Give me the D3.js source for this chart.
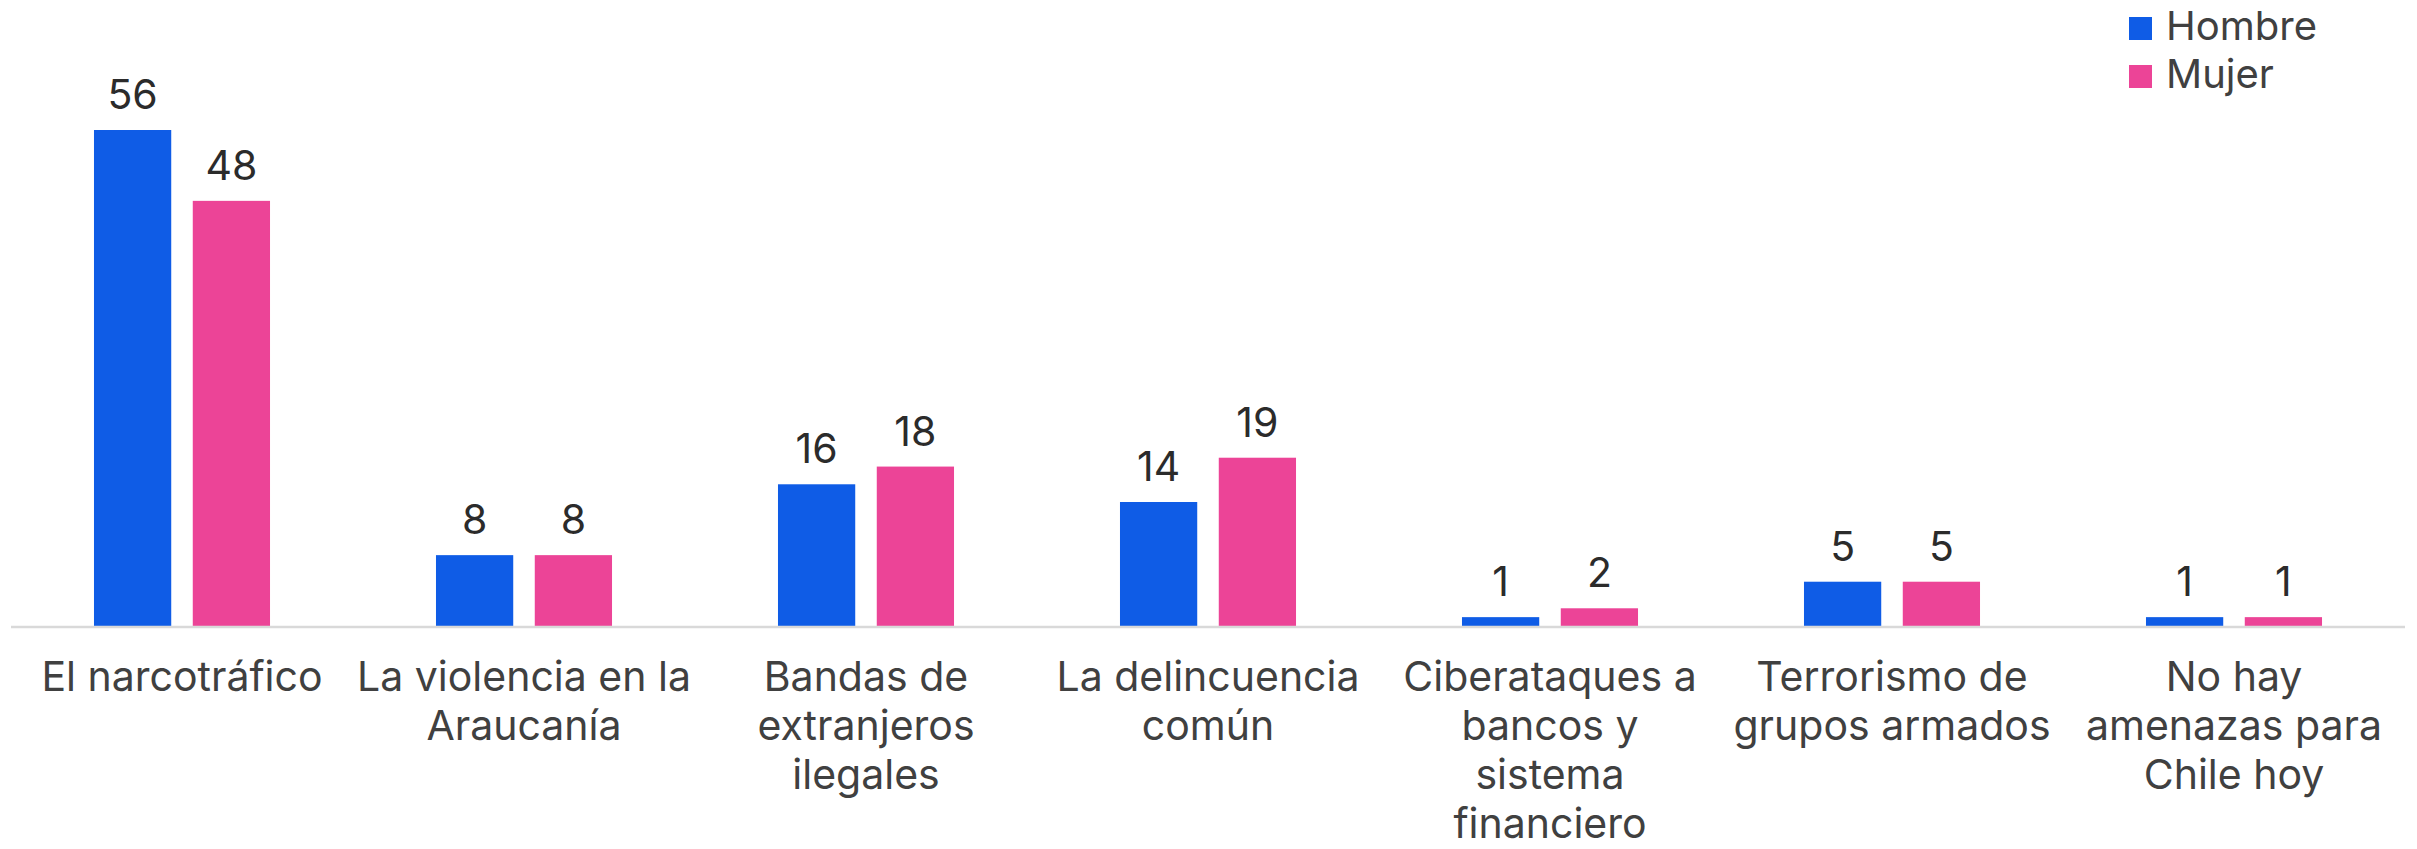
<!DOCTYPE html>
<html>
<head>
<meta charset="utf-8">
<script src="https://cdn.jsdelivr.net/npm/d3@7"></script>
<style>
  html, body { margin: 0; padding: 0; background: #ffffff; }
  svg { display: block; }
  text { font-family: Inter, "Noto Sans", sans-serif; }
</style>
</head>
<body>
<svg id="chart" width="2417" height="849"></svg>
<script>
// Threat categories (line breaks mark how each label wraps)
const categories = [
  "El narcotráfico",
  "La violencia en la\nAraucanía",
  "Bandas de\nextranjeros\nilegales",
  "La delincuencia\ncomún",
  "Ciberataques a\nbancos y\nsistema\nfinanciero",
  "Terrorismo de\ngrupos armados",
  "No hay\namenazas para\nChile hoy"
];
const seriesNames = ["Hombre", "Mujer"];
const hombre = [56, 8, 16, 14, 1, 5, 1];
const mujer  = [48, 8, 18, 19, 2, 5, 1];
const seriesColors = ["#0f5ce6", "#ec4497"];

const svg = d3.select("#chart");
const baseY = 626;

const data = categories.map((c, i) => ({ cat: c, values: [hombre[i], mujer[i]] }));

const x0 = d3.scaleBand().domain(categories).range([11, 2405]).paddingInner(0).paddingOuter(0);
const x1 = d3.scaleBand().domain(seriesNames).range([0, x0.bandwidth()])
  .paddingInner(0.218).paddingOuter(0.84);
const y = d3.scaleLinear().domain([0, 56]).range([baseY, 130]);
const color = d3.scaleOrdinal().domain(seriesNames).range(seriesColors);

// Bars
const groups = svg.append("g").selectAll("g")
  .data(data).join("g")
  .attr("transform", d => `translate(${x0(d.cat)},0)`);

groups.selectAll("rect")
  .data(d => seriesNames.map((s, k) => ({ s, v: d.values[k] })))
  .join("rect")
  .attr("x", d => x1(d.s))
  .attr("width", x1.bandwidth())
  .attr("y", d => y(d.v))
  .attr("height", d => y(0) - y(d.v))
  .attr("fill", d => color(d.s));

// Value labels
groups.selectAll("text.val")
  .data(d => seriesNames.map((s, k) => ({ s, v: d.values[k] })))
  .join("text")
  .attr("class", "val")
  .attr("x", d => x1(d.s) + x1.bandwidth() / 2)
  .attr("y", d => y(d.v) - 21)
  .attr("text-anchor", "middle")
  .attr("font-size", 41)
  .attr("fill", "#2b2b2b")
  .text(d => d.v);

// Category axis line
svg.append("line")
  .attr("x1", x0.range()[0]).attr("x2", x0.range()[1])
  .attr("y1", baseY + 1).attr("y2", baseY + 1)
  .attr("stroke", "#d9d9d9").attr("stroke-width", 2.4);

// Category labels
const lineH = 49;
svg.append("g").selectAll("text")
  .data(categories).join("text")
  .attr("text-anchor", "middle")
  .attr("font-size", 41)
  .attr("fill", "#404040")
  .each(function(c) {
    const t = d3.select(this);
    c.split("\n").forEach((line, i) => {
      t.append("tspan")
        .attr("x", x0(c) + x0.bandwidth() / 2)
        .attr("y", 691 + i * lineH)
        .text(line);
    });
  });

// Legend
const legend = svg.append("g").selectAll("g")
  .data(seriesNames).join("g")
  .attr("transform", (d, i) => `translate(2129,${17 + i * 48})`);
legend.append("rect")
  .attr("width", 23).attr("height", 23)
  .attr("fill", d => color(d));
legend.append("text")
  .attr("x", 37).attr("y", 23)
  .attr("font-size", 40)
  .attr("fill", "#404040")
  .text(d => d);
</script>
</body>
</html>
